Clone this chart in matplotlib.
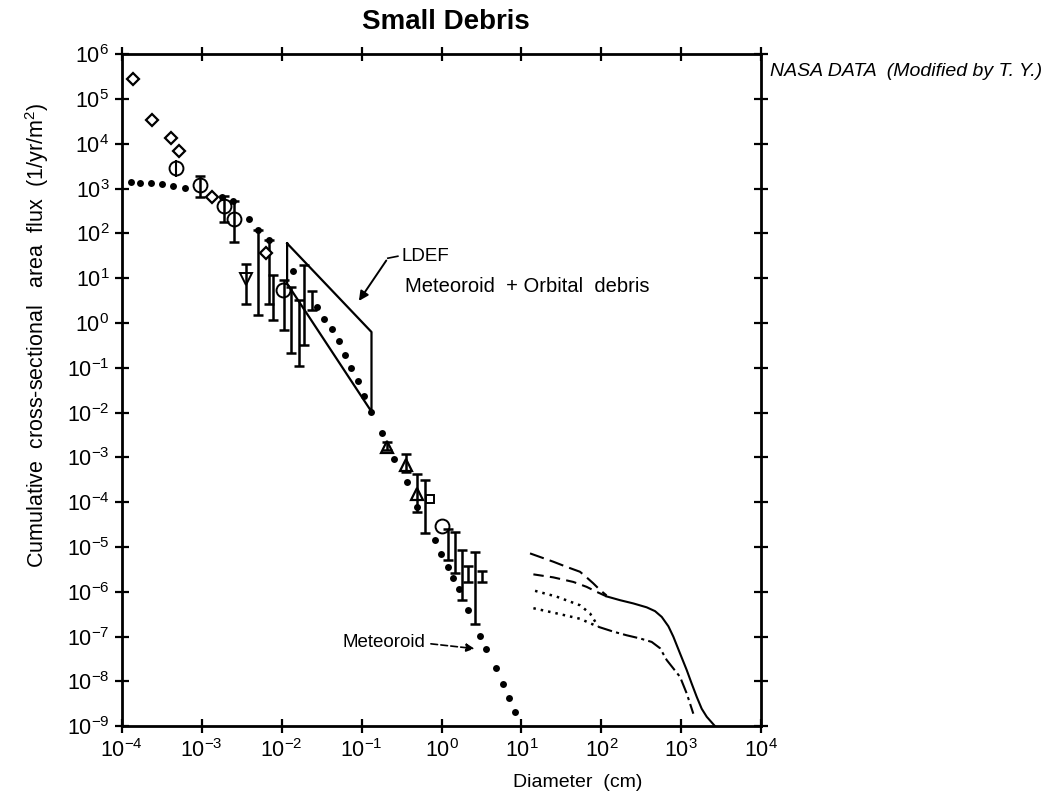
import numpy as np
import matplotlib.pyplot as plt

plt.rcParams['font.family'] = ['Liberation Sans', 'DejaVu Sans']
plt.rcParams['mathtext.fontset'] = 'custom'
plt.rcParams['mathtext.rm'] = 'Liberation Sans'
plt.rcParams['mathtext.it'] = 'Liberation Sans:italic'

# meteoroid model (drawn as a row of dots)
met_x = [1.29e-4, 1.71e-4, 2.35e-4, 3.19e-4, 4.39e-4, 6.14e-4, 1.8e-3, 2.47e-3,
         3.9e-3, 5.1e-3, 7.0e-3, 1.39e-2, 2.74e-2, 3.4e-2, 4.3e-2, 5.15e-2,
         6.2e-2, 7.4e-2, 8.9e-2, 0.108, 0.131, 0.181, 0.256, 0.366, 0.50,
         0.83, 0.98, 1.19, 1.40, 1.65, 2.16, 3.0, 3.6, 4.75, 5.9, 7.0, 8.3]
met_y = [1.41e3, 1.37e3, 1.32e3, 1.25e3, 1.15e3, 1.04e3, 6.5e2, 5.2e2,
         2.1e2, 1.17e2, 71, 14.3, 2.3, 1.26, 0.72, 0.40,
         0.19, 0.10, 0.05, 0.0236, 0.0104, 3.5e-3, 9.4e-4, 2.84e-4, 7.9e-5,
         1.41e-5, 6.9e-6, 3.6e-6, 2.0e-6, 1.17e-6, 3.9e-7, 1.05e-7, 5.4e-8,
         2.0e-8, 8.7e-9, 4.3e-9, 2.1e-9]

# measurement symbols
diam_x = [1.38e-4, 2.4e-4, 4.1e-4, 5.2e-4, 1.33e-3, 6.3e-3]
diam_y = [2.8e5, 3.4e4, 1.35e4, 6.8e3, 6.4e2, 36]
circ_x = [4.7e-4, 9.5e-4, 1.9e-3, 2.5e-3, 1.05e-2, 1.0]
circ_y = [2.9e3, 1.2e3, 4.1e2, 2.1e2, 5.4, 2.9e-5]
tdown_x = [3.6e-3]
tdown_y = [9.8]
tup_x = [0.21, 0.358, 0.5]
tup_y = [1.7e-3, 6.8e-4, 1.55e-4]
sq_x = [0.72]
sq_y = [1.15e-4]

# vertical error ranges
bar_x = [9.5e-4, 1.9e-3, 2.5e-3, 3.6e-3, 5.1e-3, 7.0e-3, 7.7e-3, 1.07e-2,
         1.3e-2, 1.64e-2, 1.9e-2, 2.4e-2, 0.21, 0.358, 0.5, 0.62,
         1.22, 1.47, 1.8, 2.16, 2.6, 3.2]
bar_lo = [6.5e2, 1.8e2, 65, 2.7, 1.5, 2.7, 1.15, 0.69,
          0.21, 0.11, 0.32, 1.95, 1.5e-3, 4.8e-4, 6.0e-5, 2.1e-5,
          5.1e-6, 2.6e-6, 6.5e-7, 1.66e-6, 1.9e-7, 1.66e-6]
bar_hi = [1.9e3, 6.9e2, 5.2e2, 21, 1.17e2, 71, 11.7, 9.1,
          6.5, 3.2, 19.5, 5.2, 2.2e-3, 1.2e-3, 4.2e-4, 3.2e-4,
          2.5e-5, 2.2e-5, 8.5e-6, 3.8e-6, 7.9e-6, 2.9e-6]

# LDEF envelope
ldef_x = [0.0117, 0.133, 0.133, 0.0117, 0.0117]
ldef_y = [60, 0.63, 0.0105, 7.6, 60]

# orbital debris models, large sizes
dA_x = [12.8, 25, 36.7, 54, 65.3, 79, 96, 116]
dA_y = [7.2e-6, 4.7e-6, 3.6e-6, 2.8e-6, 2.1e-6, 1.55e-6, 1.1e-6, 8.3e-7]
dB_x = [14.1, 25, 44.6, 65.3, 87, 116]
dB_y = [2.45e-6, 2.1e-6, 1.66e-6, 1.29e-6, 1.0e-6, 7.9e-7]
sol_x = [116, 171, 251, 369, 469, 569, 689, 794, 964, 1167, 1349, 1560,
         1799, 2080, 2640]
sol_y = [7.9e-7, 6.5e-7, 5.5e-7, 4.5e-7, 3.7e-7, 2.75e-7, 1.7e-7, 1.0e-7,
         4.2e-8, 1.8e-8, 8.9e-9, 4.5e-9, 2.45e-9, 1.62e-9, 1.0e-9]
dC_x = [14.8, 27.5, 54, 72, 91]
dC_y = [1.05e-6, 7.8e-7, 5.0e-7, 3.3e-7, 1.7e-7]
dD_x = [14.1, 27.5, 54, 91]
dD_y = [4.3e-7, 3.3e-7, 2.5e-7, 1.66e-7]
dd_x = [91, 141, 207, 304, 426, 542, 656, 794, 964, 1167, 1413]
dd_y = [1.66e-7, 1.29e-7, 1.07e-7, 9.1e-8, 7.6e-8, 5.5e-8, 3.0e-8,
        1.95e-8, 1.26e-8, 5.4e-9, 1.9e-9]

fig = plt.figure(figsize=(10.5, 7.98), dpi=100)
ax = fig.add_axes([0.116, 0.090, 0.609, 0.842])
ax.set_xscale('log')
ax.set_yscale('log')
ax.set_xlim(1e-4, 1e4)
ax.set_ylim(1e-9, 1e6)

ax.plot(met_x, met_y, 'o', color='black', ms=5, mec='none')
ax.vlines(bar_x, bar_lo, bar_hi, color='black', lw=1.8)
ax.plot(bar_x + bar_x, bar_lo + bar_hi, '_', color='black', ms=7, mew=1.8)
ax.vlines([4.7e-4], [1.86e3], [4.3e3], color='black', lw=1.5)

ax.plot(diam_x, diam_y, 'D', mfc='white', mec='black', ms=6.5, mew=1.6)
ax.plot(circ_x, circ_y, 'o', mfc='none', mec='black', ms=10, mew=1.4)
ax.plot(tdown_x, tdown_y, 'v', mfc='none', mec='black', ms=9, mew=1.4)
ax.plot(tup_x, tup_y, '^', mfc='none', mec='black', ms=8, mew=1.6)
ax.plot(sq_x, sq_y, 's', mfc='white', mec='black', ms=6, mew=1.4)

ax.plot(ldef_x, ldef_y, color='black', lw=1.6)

ax.plot(dA_x, dA_y, color='black', lw=1.5, dashes=(7, 3))
ax.plot(dB_x, dB_y, color='black', lw=1.5, dashes=(5, 3))
ax.plot(sol_x, sol_y, color='black', lw=1.5)
ax.plot(dC_x, dC_y, color='black', lw=1.8, dashes=(1, 2))
ax.plot(dD_x, dD_y, color='black', lw=1.8, dashes=(1, 2))
ax.plot(dd_x, dd_y, color='black', lw=1.5, dashes=(7, 2, 1.5, 2))

# annotations
ax.text(0.319, 31, 'LDEF', fontsize=13.5, va='center', ha='left')
ax.plot([0.213, 0.284], [28, 31], color='black', lw=1.2)
ax.annotate('', xy=(0.0885, 2.77), xytext=(0.213, 28),
            arrowprops=dict(arrowstyle='-|>', color='black', lw=1.4,
                            mutation_scale=14))
ax.text(0.348, 6.6, 'Meteoroid  + Orbital  debris', fontsize=14.5,
        va='center', ha='left')
ax.text(0.62, 7.3e-8, 'Meteoroid', fontsize=13.5, va='center', ha='right')
ax.annotate('', xy=(2.8, 5.3e-8), xytext=(0.68, 7.0e-8),
            arrowprops=dict(arrowstyle='-|>', color='black', lw=1.2,
                            linestyle=(0, (4, 2)), mutation_scale=12))

ax.set_xticks([10.0 ** k for k in range(-4, 5)])
ax.set_yticks([10.0 ** k for k in range(-9, 7)])
ax.set_xticklabels([r'$10^{%d}$' % k for k in range(-4, 5)])
ax.set_yticklabels([r'$10^{%d}$' % k for k in range(-9, 7)])
ax.minorticks_off()
ax.tick_params(which='major', direction='inout', length=10, width=1.6,
               labelsize=15.5, top=True, right=True, pad=4)
for s in ax.spines.values():
    s.set_linewidth(2)

fig.text(0.425, 0.972, 'Small Debris', fontsize=20, fontweight='bold',
         ha='center', va='center')
fig.text(0.733, 0.911, 'NASA DATA  (Modified by T. Y.)', fontsize=14,
         style='italic', ha='left', va='center')
fig.text(0.55, 0.02, 'Diameter  (cm)', fontsize=14, ha='center', va='center')
fig.text(0.035, 0.58, r'Cumulative  cross-sectional   area  flux  (1/yr/m$^2$)',
         fontsize=15.5, rotation=90, ha='center', va='center')

fig.savefig('out.png', dpi=100)
